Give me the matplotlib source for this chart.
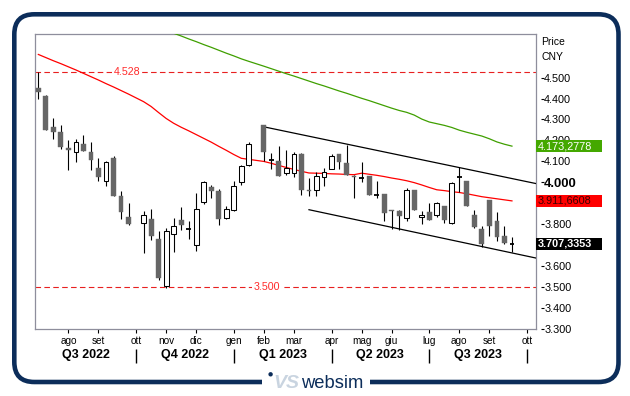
import datetime as dt
import matplotlib
matplotlib.use("Agg")
import matplotlib.pyplot as plt
import matplotlib.dates as mdates
import matplotlib.transforms as mtransforms
from matplotlib.patches import FancyBboxPatch, Rectangle, Circle
import numpy as np

plt.rcParams['font.family'] = ['Liberation Sans', 'DejaVu Sans']

# ---------------- data ----------------
bar_dates = ["2022-07-08", "2022-07-15", "2022-07-22", "2022-07-29", "2022-08-05", "2022-08-12",
             "2022-08-19", "2022-08-26", "2022-09-02", "2022-09-09", "2022-09-16", "2022-09-23",
             "2022-09-30", "2022-10-14", "2022-10-21", "2022-10-28", "2022-11-04", "2022-11-11",
             "2022-11-18", "2022-11-25", "2022-12-02", "2022-12-09", "2022-12-16", "2022-12-23",
             "2022-12-30", "2023-01-06", "2023-01-13", "2023-01-20", "2023-02-03", "2023-02-10",
             "2023-02-17", "2023-02-24", "2023-03-03", "2023-03-10", "2023-03-17", "2023-03-24",
             "2023-03-31", "2023-04-07", "2023-04-14", "2023-04-21", "2023-04-28", "2023-05-05",
             "2023-05-12", "2023-05-19", "2023-05-26", "2023-06-02", "2023-06-09", "2023-06-16",
             "2023-06-23", "2023-06-30", "2023-07-07", "2023-07-14", "2023-07-21", "2023-07-28",
             "2023-08-04", "2023-08-11", "2023-08-18", "2023-08-25", "2023-09-01", "2023-09-08",
             "2023-09-15", "2023-09-22"]
opens = [4.450, 4.412, 4.266, 4.238, 4.166, 4.144, 4.183, 4.143, 4.071, 4.009, 4.116, 3.933,
         3.833, 3.807, 3.827, 3.732, 3.505, 3.754, 3.822, 3.776, 3.700, 3.907, 3.978, 3.957,
         3.830, 3.867, 4.002, 4.084, 4.274, 4.108, 4.103, 4.044, 4.044, 4.136, 3.965, 3.962,
         4.025, 4.064, 4.136, 4.092, 4.033, 4.021, 4.033, 3.941, 3.946, 3.867, 3.865, 3.830,
         3.962, 3.835, 3.857, 3.846, 3.886, 3.807, 4.025, 4.009, 3.846, 3.778, 3.917, 3.818,
         3.743, 3.707]
highs = [4.528, 4.415, 4.306, 4.274, 4.203, 4.208, 4.227, 4.195, 4.116, 4.104, 4.128, 3.960,
         3.902, 3.865, 3.875, 3.767, 3.783, 3.830, 3.881, 3.814, 3.949, 4.008, 3.989, 3.968,
         3.886, 4.005, 4.084, 4.192, 4.274, 4.140, 4.174, 4.155, 4.143, 4.140, 4.021, 4.052,
         4.068, 4.136, 4.136, 4.179, 4.036, 4.097, 4.033, 4.005, 3.946, 3.870, 3.870, 3.973,
         3.962, 3.862, 3.902, 3.909, 3.886, 4.000, 4.073, 4.009, 3.870, 3.790, 3.917, 3.859,
         3.794, 3.740]
lows = [4.397, 4.249, 4.208, 4.160, 4.057, 4.095, 4.152, 4.060, 4.005, 3.984, 3.933, 3.828,
        3.798, 3.664, 3.727, 3.537, 3.499, 3.667, 3.775, 3.732, 3.671, 3.898, 3.926, 3.798,
        3.828, 3.866, 3.989, 4.076, 4.103, 4.065, 4.033, 4.036, 4.028, 3.941, 3.936, 3.936,
        3.984, 4.064, 4.064, 4.036, 3.926, 4.000, 3.938, 3.926, 3.814, 3.778, 3.775, 3.814,
        3.867, 3.802, 3.822, 3.835, 3.807, 3.803, 3.954, 3.886, 3.783, 3.692, 3.743, 3.719,
        3.708, 3.667]
closes = [4.433, 4.251, 4.238, 4.168, 4.155, 4.192, 4.152, 4.108, 4.024, 4.097, 3.933, 3.857,
          3.803, 3.846, 3.743, 3.545, 3.770, 3.790, 3.798, 3.776, 3.873, 4.002, 3.957, 3.827,
          3.875, 3.984, 4.079, 4.183, 4.143, 4.108, 4.033, 4.068, 4.136, 3.965, 3.957, 4.032,
          4.052, 4.127, 4.097, 4.036, 4.028, 4.021, 3.938, 3.941, 3.854, 3.864, 3.838, 3.965,
          3.867, 3.846, 3.822, 3.902, 3.822, 3.997, 4.025, 3.886, 3.786, 3.708, 3.790, 3.740,
          3.711, 3.707]
ma_red = [4.610, 4.595, 4.580, 4.566, 4.551, 4.536, 4.520, 4.504, 4.488, 4.471, 4.455, 4.438,
          4.421, 4.385, 4.362, 4.333, 4.305, 4.282, 4.263, 4.246, 4.228, 4.210, 4.192, 4.172,
          4.153, 4.133, 4.115, 4.110, 4.100, 4.091, 4.081, 4.071, 4.062, 4.053, 4.045, 4.044,
          4.043, 4.041, 4.040, 4.038, 4.037, 4.044, 4.039, 4.034, 4.028, 4.021, 4.015, 4.008,
          3.999, 3.988, 3.976, 3.965, 3.961, 3.956, 3.952, 3.946, 3.939, 3.932, 3.927, 3.922,
          3.917, 3.912]
ma_green_start = 16  # green average begins with the 17th weekly bar
ma_green = [4.725, 4.711, 4.698, 4.684, 4.671, 4.657, 4.644, 4.630, 4.616, 4.603, 4.589, 4.577,
            4.554, 4.542, 4.530, 4.518, 4.507, 4.495, 4.483, 4.471, 4.460, 4.448, 4.436, 4.425,
            4.413, 4.401, 4.390, 4.378, 4.366, 4.354, 4.343, 4.334, 4.321, 4.302, 4.288, 4.280,
            4.272, 4.262, 4.249, 4.239, 4.230, 4.221, 4.208, 4.193, 4.182, 4.173]

month_tick_dates = ["2022-08-05", "2022-09-02", "2022-10-07", "2022-11-04", "2022-12-02",
                    "2023-01-06", "2023-02-03", "2023-03-03", "2023-04-07", "2023-05-05",
                    "2023-06-02", "2023-07-07", "2023-08-04", "2023-09-01", "2023-10-06"]
month_labels = ["ago", "set", "ott", "nov", "dic", "gen", "feb", "mar", "apr", "mag", "giu",
                "lug", "ago", "set", "ott"]
quarter_bounds = ["2022-10-07", "2023-01-06", "2023-04-07", "2023-07-07", "2023-10-06"]
quarter_labels = ["Q3 2022", "Q4 2022", "Q1 2023", "Q2 2023", "Q3 2023"]
y_ticks = [3.3, 3.4, 3.5, 3.6, 3.7, 3.8, 3.9, 4.0, 4.1, 4.2, 4.3, 4.4, 4.5]
# 3.700 and 3.900 are hidden behind the last-value boxes in the reference
y_tick_labels = ["3.300", "3.400", "3.500", "3.600", "", "3.800", "", "4.000",
                 "4.100", "4.200", "4.300", "4.400", "4.500"]
level_values = [4.528, 3.500]
level_labels = ["4.528", "3.500"]
channel_upper_dates = ["2023-02-03", "2023-10-14"]
channel_upper_prices = [4.265, 3.995]
channel_lower_dates = ["2023-03-17", "2023-10-14"]
channel_lower_prices = [3.870, 3.640]
last_green, last_green_label = 4.1732778, "4.173,2778"
last_red, last_red_label = 3.9116608, "3.911,6608"
last_close, last_close_label = 3.7073353, "3.707,3353"

# ---------------- figure ----------------
W, H = 630, 396
fig = plt.figure(figsize=(W / 100, H / 100), dpi=100)
fig.patch.set_facecolor("white")
ax = fig.add_axes([35 / W, 1 - 329.3 / H, 500.8 / W, 295 / H])

def dn(s):
    return mdates.date2num(dt.datetime.strptime(s, "%Y-%m-%d"))

x = np.array([dn(d) for d in bar_dates])
o = np.array(opens); h = np.array(highs); l = np.array(lows); c = np.array(closes)

x0 = x[0] - 3.1
x1 = x[0] + 463.2
ax.set_xlim(x0, x1)
ax.set_ylim(3.302, 4.706)

# horizontal levels
for v, lab, xf in zip(level_values, level_labels, [0.183, 0.4635]):
    ax.axhline(v, color="#e82020", lw=0.8, ls=(0, (5, 3)), zorder=1)
    ax.text(xf, v, lab, transform=ax.get_yaxis_transform(), ha="center", va="center",
            fontsize=7.7, color="#ff2a2a",
            bbox=dict(boxstyle="square,pad=0.15", fc="white", ec="none"), zorder=2)

# moving averages
ax.plot(x, ma_red, color="#ff0000", lw=0.9, zorder=3)
ax.plot(x[ma_green_start:], ma_green, color="#3f9f00", lw=0.9, zorder=3)

# channel lines
ax.plot([dn(d) for d in channel_upper_dates], channel_upper_prices, color="black", lw=0.9, zorder=3)
ax.plot([dn(d) for d in channel_lower_dates], channel_lower_prices, color="black", lw=0.9, zorder=3)

# candles
bw = 4.5
ax.vlines(x, l, h, color="black", lw=0.8, zorder=4)
down = c < o
up = c > o
doji = c == o
ax.bar(x[down], (o - c)[down], bottom=c[down], width=bw, color="#666666", edgecolor="#666666",
       lw=0.3, zorder=5)
ax.bar(x[up], (c - o)[up], bottom=o[up], width=bw, color="white", edgecolor="black",
       lw=0.75, zorder=5)
ax.hlines(o[doji], x[doji] - bw / 2, x[doji] + bw / 2, color="black", lw=1.3, zorder=5)

# spines
for s in ax.spines.values():
    s.set_color("#8e8e9c")
    s.set_linewidth(0.9)

# y axis (right)
ax.yaxis.tick_right()
ax.set_yticks(y_ticks)
ax.set_yticklabels(y_tick_labels)
ax.tick_params(axis="y", length=0, pad=6, labelsize=7.8, colors="black")
for t in ax.get_yticklabels():
    if t.get_text() == "4.000":
        t.set_fontweight("bold")
        t.set_fontsize(9.4)
ax.hlines(y_ticks, 1.0102, 1.0160, transform=ax.get_yaxis_transform(), color="black",
          lw=0.8, clip_on=False)

ax.text(1.0104, 0.9746, "Price", transform=ax.transAxes, fontsize=7.5, va="center", ha="left")
ax.text(1.0104, 0.923, "CNY", transform=ax.transAxes, fontsize=7.5, va="center", ha="left")

# last value boxes
box_h = 12.5 / 210.1
for val, lab, fc, tc, fw in [(last_green, last_green_label, "#44a800", "white", "normal"),
                             (last_red, last_red_label, "#ff0000", "#3a0000", "normal"),
                             (last_close, last_close_label, "black", "white", "bold")]:
    r = Rectangle((1.0, val - box_h / 2), 0.1312, box_h, transform=ax.get_yaxis_transform(),
                  facecolor=fc, edgecolor="none", clip_on=False, zorder=10)
    ax.add_patch(r)
    ax.text(1.003, val, lab, transform=ax.get_yaxis_transform(), ha="left", va="center",
            fontsize=7.8, color=tc, fontweight=fw, zorder=11, clip_on=False)

# x axis
ax.set_xticks([dn(d) for d in month_tick_dates])
ax.set_xticklabels(month_labels)
ax.tick_params(axis="x", length=2.6, width=0.8, pad=2.0, labelsize=7.2, colors="black")
qb = [dn(d) for d in quarter_bounds]
ax.vlines(qb, -0.0668, -0.1152, transform=ax.get_xaxis_transform(), color="black", lw=1.0,
          clip_on=False)
edges = [x0] + qb
for i, lab in enumerate(quarter_labels):
    ax.text((edges[i] + edges[i + 1]) / 2, -0.0875, lab, transform=ax.get_xaxis_transform(),
            ha="center", va="center", fontsize=9, fontweight="bold")

# outer frame & logo (pixel coordinates)
pix = mtransforms.IdentityTransform()
navy = "#0c2d5a"
frame = FancyBboxPatch((14.3, H - 382), 604.2, 367.7, boxstyle="round,pad=0,rounding_size=20",
                       lw=3.3, ec=navy, fc="none", transform=pix)
fig.patches.append(frame)
fig.patches.append(Rectangle((262, H - 390), 108, 14, transform=pix, fc="white", ec="none"))
fig.patches.append(Circle((270.6, H - 374.3), 2.2, transform=pix, fc=navy, ec="none"))
fig.text(286, H - 383, "VS", transform=pix, ha="center", va="center", fontsize=14,
         fontstyle="italic", fontweight="bold", color="#c9d4e0")
fig.text(301, H - 383.5, "websim", transform=pix, ha="left", va="center", fontsize=13.2,
         color=navy)

fig.savefig("out.png", dpi=100, facecolor="white")
